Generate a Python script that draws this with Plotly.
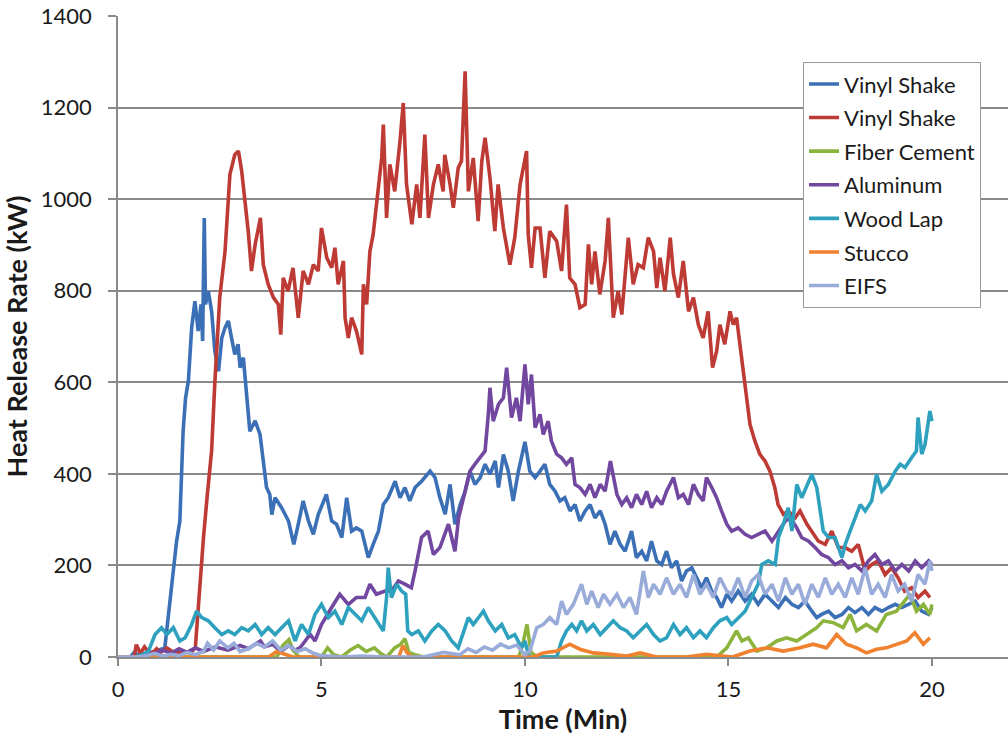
import plotly.graph_objects as go

# ---------------- data ----------------
T_VS1 = [0, 0.3, 0.4, 0.5, 0.7, 0.9, 1.15, 1.24, 1.32, 1.38,
         1.44, 1.52, 1.56, 1.6, 1.66, 1.73, 1.81, 1.89, 1.97, 2.04,
         2.08, 2.12, 2.15, 2.22, 2.3, 2.38, 2.47, 2.55, 2.63, 2.71,
         2.79, 2.87, 2.95, 3.0, 3.08, 3.16, 3.24, 3.37, 3.49, 3.57,
         3.65, 3.73, 3.78, 3.86, 4.02, 4.19, 4.32, 4.43, 4.55, 4.68,
         4.8, 4.92, 4.96, 5.12, 5.25, 5.37, 5.5, 5.62, 5.74, 5.86,
         5.99, 6.15, 6.27, 6.4, 6.52, 6.64, 6.81, 6.93, 7.05, 7.17,
         7.3, 7.46, 7.67, 7.79, 7.91, 8.04, 8.16, 8.28, 8.41, 8.53,
         8.65, 8.77, 8.9, 9.02, 9.14, 9.27, 9.35, 9.47, 9.59, 9.71,
         9.84, 10.0, 10.12, 10.25, 10.37, 10.49, 10.61, 10.74, 10.86, 10.98,
         11.11, 11.23, 11.35, 11.48, 11.6, 11.72, 11.85, 11.97, 12.09, 12.21,
         12.34, 12.46, 12.62, 12.74, 12.87, 12.99, 13.11, 13.24, 13.36, 13.48,
         13.6, 13.73, 13.85, 13.97, 14.1, 14.22, 14.34, 14.46, 14.59, 14.71,
         14.83, 14.96, 15.08, 15.24, 15.41, 15.57, 15.73, 15.9, 16.07, 16.23,
         16.4, 16.56, 16.72, 16.88, 17.05, 17.17, 17.29, 17.46, 17.62, 17.79,
         17.95, 18.11, 18.28, 18.44, 18.6, 18.77, 18.93, 19.1, 19.26, 19.43,
         19.59, 19.75, 19.92, 20.0]
V_VS1 = [0, 0, 10, 4, 8, 12, 20, 93, 166, 217,
         253, 297, 384, 493, 566, 603, 719, 777, 712, 770,
         690, 959, 770, 799, 755, 668, 624, 697, 719, 734,
         697, 661, 683, 632, 654, 573, 493, 516, 486, 428,
         370, 355, 311, 348, 326, 297, 246, 290, 341, 297,
         268, 311, 319, 355, 297, 290, 261, 348, 275, 282,
         275, 217, 246, 275, 333, 348, 384, 348, 370, 341,
         370, 384, 406, 392, 348, 312, 377, 290, 333, 362,
         406, 377, 392, 421, 399, 428, 370, 442, 406, 341,
         406, 470, 406, 392, 406, 421, 377, 362, 341, 348,
         319, 333, 297, 319, 333, 304, 319, 290, 246, 275,
         246, 231, 275, 217, 231, 210, 253, 210, 202, 231,
         195, 210, 166, 188, 195, 173, 151, 173, 144, 130,
         108, 137, 122, 144, 122, 137, 115, 137, 122, 108,
         130, 115, 108, 122, 100, 86, 93, 100, 86, 93,
         108, 97, 108, 93, 108, 100, 108, 115, 108, 115,
         122, 100, 93, 108]

T_VS2 = [0, 0.4, 0.45, 0.55, 0.65, 0.8, 0.95, 1.05, 1.2, 1.4,
         1.6, 1.8, 1.9, 2.0, 2.1, 2.19, 2.3, 2.38, 2.5, 2.63,
         2.75, 2.87, 2.96, 3.04, 3.12, 3.2, 3.28, 3.37, 3.5, 3.57,
         3.69, 3.82, 3.94, 4.0, 4.06, 4.18, 4.3, 4.43, 4.55, 4.68,
         4.8, 4.92, 5.0, 5.13, 5.25, 5.33, 5.41, 5.54, 5.58, 5.66,
         5.74, 5.86, 5.99, 6.03, 6.11, 6.19, 6.27, 6.4, 6.48, 6.52,
         6.6, 6.68, 6.8, 6.93, 7.01, 7.09, 7.22, 7.34, 7.42, 7.54,
         7.63, 7.75, 7.87, 7.99, 8.03, 8.16, 8.24, 8.36, 8.44, 8.53,
         8.61, 8.73, 8.85, 8.94, 9.02, 9.14, 9.26, 9.34, 9.47, 9.63,
         9.75, 9.88, 10.04, 10.08, 10.16, 10.25, 10.37, 10.49, 10.61, 10.78,
         10.9, 11.02, 11.1, 11.23, 11.35, 11.48, 11.56, 11.64, 11.72, 11.84,
         11.97, 12.05, 12.17, 12.29, 12.38, 12.54, 12.66, 12.78, 12.91, 13.03,
         13.16, 13.24, 13.32, 13.44, 13.57, 13.65, 13.77, 13.89, 14.02, 14.14,
         14.26, 14.38, 14.5, 14.61, 14.71, 14.79, 14.91, 15.04, 15.12, 15.2,
         15.28, 15.41, 15.53, 15.65, 15.77, 15.9, 16.02, 16.14, 16.22, 16.35,
         16.47, 16.64, 16.76, 16.93, 17.05, 17.21, 17.38, 17.54, 17.7, 17.87,
         18.03, 18.19, 18.36, 18.52, 18.68, 18.85, 19.01, 19.17, 19.33, 19.5,
         19.66, 19.83, 19.95]
V_VS2 = [0, 0, 27, 8, 22, 5, 18, 10, 20, 8,
         12, 10, 20, 150, 260, 350, 450, 600, 785, 886,
         1054, 1097, 1105, 1061, 1003, 930, 843, 901, 959, 857,
         814, 785, 770, 704, 828, 799, 850, 741, 843, 814,
         857, 843, 937, 872, 850, 894, 814, 865, 741, 697,
         741, 712, 661, 814, 770, 886, 923, 1032, 1090, 1163,
         959, 1076, 1017, 1127, 1210, 1032, 945, 1032, 959, 1141,
         959, 1032, 1076, 1017, 1097, 1032, 981, 1068, 1083, 1279,
         1017, 1090, 952, 1083, 1134, 1047, 930, 1032, 937, 857,
         916, 1032, 1105, 923, 850, 937, 937, 828, 930, 908,
         843, 988, 828, 814, 763, 770, 901, 814, 886, 792,
         865, 959, 741, 799, 748, 916, 814, 857, 850, 916,
         886, 806, 872, 799, 916, 836, 785, 865, 755, 785,
         726, 697, 755, 632, 668, 726, 683, 755, 726, 741,
         683, 581, 508, 472, 443, 428, 406, 370, 333, 312,
         319, 304, 319, 290, 275, 253, 246, 275, 239, 239,
         231, 246, 188, 202, 210, 180, 195, 173, 144, 151,
         130, 144, 130]

T_FC = [0, 3.9, 4.05, 4.2, 4.3, 4.45, 5.0, 5.15, 5.3, 5.5,
        5.7, 5.9, 6.1, 6.3, 6.45, 6.6, 6.8, 6.95, 7.05, 7.15,
        7.3, 7.5, 9.85, 9.95, 10.05, 10.15, 10.3, 14.71, 14.96, 15.2,
        15.33, 15.49, 15.7, 15.94, 16.19, 16.43, 16.68, 16.92, 17.17, 17.33,
        17.58, 17.82, 17.99, 18.15, 18.39, 18.64, 18.88, 19.13, 19.33, 19.46,
        19.62, 19.79, 19.95, 20.0]
V_FC = [0, 0, 25, 38, 15, 0, 0, 20, 5, 0,
        15, 25, 12, 20, 8, 0, 20, 28, 40, 10,
        5, 0, 0, 30, 71, 10, 0, 0, 20, 57,
        35, 42, 13, 20, 35, 42, 35, 49, 64, 79,
        75, 64, 93, 57, 71, 57, 93, 100, 122, 137,
        100, 115, 93, 115]

T_AL = [0, 0.5, 0.8, 1.1, 1.3, 1.5, 1.7, 1.9, 2.1, 2.4,
        2.7, 3.0, 3.2, 3.4, 3.5, 3.6, 3.8, 4.0, 4.2, 4.35,
        4.47, 4.6, 4.72, 4.84, 5.0, 5.25, 5.45, 5.66, 5.86, 6.07,
        6.19, 6.35, 6.56, 6.72, 6.89, 7.05, 7.21, 7.3, 7.46, 7.62,
        7.75, 7.91, 8.12, 8.28, 8.37, 8.53, 8.65, 8.77, 8.9, 9.02,
        9.1, 9.14, 9.22, 9.35, 9.47, 9.55, 9.67, 9.79, 9.88, 10.0,
        10.08, 10.16, 10.25, 10.37, 10.45, 10.57, 10.65, 10.78, 10.9, 11.02,
        11.15, 11.23, 11.35, 11.48, 11.6, 11.72, 11.85, 11.97, 12.1, 12.26,
        12.38, 12.5, 12.62, 12.74, 12.87, 12.99, 13.11, 13.24, 13.36, 13.48,
        13.65, 13.77, 13.89, 14.02, 14.14, 14.26, 14.38, 14.46, 14.59, 14.71,
        14.83, 14.96, 15.08, 15.24, 15.41, 15.57, 15.73, 15.9, 16.07, 16.23,
        16.4, 16.52, 16.68, 16.8, 16.97, 17.13, 17.29, 17.46, 17.62, 17.79,
        17.95, 18.11, 18.28, 18.44, 18.6, 18.77, 18.93, 19.1, 19.26, 19.43,
        19.59, 19.75, 19.92, 20.0]
V_AL = [0, 0, 5, 15, 8, 18, 10, 20, 12, 22,
        15, 25, 18, 30, 35, 22, 28, 12, 25, 15,
        20, 35, 50, 35, 71, 108, 137, 115, 130, 130,
        159, 137, 144, 144, 166, 159, 151, 188, 261, 275,
        224, 239, 290, 231, 304, 362, 406, 421, 435, 450,
        530, 588, 515, 552, 566, 632, 523, 566, 515, 639,
        552, 617, 501, 530, 486, 515, 472, 443, 435, 421,
        435, 377, 370, 355, 377, 348, 377, 362, 428, 355,
        333, 348, 326, 355, 333, 362, 326, 348, 333, 362,
        392, 348, 355, 333, 377, 355, 341, 392, 370, 348,
        319, 290, 275, 282, 268, 261, 268, 275, 253, 275,
        297, 304, 282, 261, 253, 239, 224, 217, 202, 210,
        195, 202, 188, 210, 224, 202, 210, 188, 202, 188,
        210, 195, 210, 202]

T_WL = [0, 0.42, 0.6, 0.75, 0.91, 1.07, 1.2, 1.36, 1.52, 1.65,
        1.81, 1.93, 2.06, 2.22, 2.38, 2.55, 2.71, 2.87, 3.04, 3.2,
        3.37, 3.53, 3.69, 3.86, 4.02, 4.19, 4.35, 4.51, 4.68, 4.84,
        5.0, 5.17, 5.33, 5.5, 5.66, 5.82, 5.99, 6.15, 6.31, 6.44,
        6.52, 6.6, 6.64, 6.72, 6.85, 6.97, 7.07, 7.12, 7.22, 7.38,
        7.54, 7.71, 7.87, 8.04, 8.2, 8.36, 8.49, 8.61, 8.73, 8.85,
        8.98, 9.1, 9.27, 9.43, 9.59, 9.75, 9.92, 10.0, 10.08, 10.12,
        10.78, 10.9, 11.02, 11.15, 11.27, 11.39, 11.52, 11.68, 11.85, 12.01,
        12.17, 12.34, 12.5, 12.66, 12.82, 12.99, 13.16, 13.32, 13.48, 13.65,
        13.81, 13.97, 14.14, 14.3, 14.46, 14.63, 14.79, 14.96, 15.08, 15.24,
        15.41, 15.57, 15.73, 15.82, 15.98, 16.15, 16.23, 16.35, 16.47, 16.56,
        16.68, 16.8, 16.93, 17.05, 17.17, 17.25, 17.33, 17.46, 17.62, 17.79,
        17.87, 17.99, 18.11, 18.24, 18.36, 18.52, 18.64, 18.77, 18.93, 19.1,
        19.22, 19.34, 19.5, 19.62, 19.66, 19.75, 19.83, 19.95, 20.0]
V_WL = [0, 0, 5, 13, 49, 64, 49, 64, 35, 42,
        71, 100, 86, 79, 64, 49, 57, 49, 64, 57,
        71, 49, 64, 49, 64, 79, 35, 71, 49, 93,
        115, 86, 100, 71, 108, 93, 79, 108, 86, 71,
        57, 130, 195, 130, 159, 144, 137, 57, 49, 57,
        35, 57, 71, 57, 35, 20, 57, 86, 71, 86,
        100, 79, 57, 71, 42, 49, 20, 35, 6, 0,
        0, 35, 57, 71, 57, 79, 57, 71, 49, 64,
        79, 64, 57, 42, 57, 71, 49, 35, 42, 71,
        49, 64, 42, 57, 42, 64, 79, 86, 71, 86,
        100, 130, 159, 202, 210, 202, 261, 290, 326, 275,
        377, 348, 377, 399, 370, 319, 275, 261, 261, 217,
        246, 275, 304, 333, 319, 341, 399, 362, 377, 406,
        421, 414, 435, 450, 523, 443, 464, 537, 515]

T_ST = [0, 3.7, 3.9, 4.1, 4.3, 6.9, 7.0, 7.1, 7.2, 10.21,
        10.45, 10.78, 11.1, 11.35, 11.68, 12.09, 12.5, 12.83, 13.24, 13.97,
        14.46, 15.1, 15.53, 15.94, 16.35, 16.76, 17.08, 17.41, 17.66, 17.9,
        18.15, 18.39, 18.64, 18.88, 19.13, 19.38, 19.58, 19.79, 19.95]
V_ST = [0, 0, 12, 5, 0, 0, 25, 10, 0, 0,
        9, 13, 28, 17, 9, 6, 2, 9, 0, 0,
        6, 0, 13, 20, 13, 20, 28, 20, 49, 28,
        20, 9, 17, 20, 28, 35, 53, 28, 42]

T_EI = [0, 0.5, 0.7, 0.9, 1.1, 1.3, 1.5, 1.7, 1.9, 2.1,
        2.2, 2.35, 2.5, 2.7, 2.85, 3.0, 3.2, 3.4, 3.6, 3.8,
        4.0, 4.2, 4.4, 4.6, 4.8, 5.0, 5.5, 6.0, 6.5, 7.0,
        7.5, 8.0, 8.4, 8.6, 8.8, 9.0, 9.2, 9.4, 9.6, 9.8,
        10.0, 10.12, 10.29, 10.45, 10.61, 10.78, 10.9, 11.02, 11.19, 11.39,
        11.52, 11.64, 11.8, 11.93, 12.09, 12.26, 12.42, 12.58, 12.74, 12.91,
        13.03, 13.16, 13.32, 13.48, 13.65, 13.81, 13.97, 14.14, 14.3, 14.46,
        14.63, 14.79, 14.96, 15.08, 15.24, 15.41, 15.57, 15.73, 15.9, 16.07,
        16.23, 16.4, 16.56, 16.72, 16.88, 17.05, 17.21, 17.38, 17.54, 17.7,
        17.87, 18.03, 18.19, 18.36, 18.52, 18.68, 18.85, 19.01, 19.17, 19.33,
        19.5, 19.66, 19.83, 19.95, 20.0]
V_EI = [0, 0, 3, 8, 2, 6, 3, 10, 5, 12,
        30, 15, 35, 20, 30, 12, 18, 30, 22, 35,
        15, 25, 12, 18, 8, 3, 0, 2, 0, 0,
        0, 10, 5, 18, 10, 22, 15, 28, 20, 26,
        5, 13, 64, 71, 86, 71, 122, 93, 115, 159,
        115, 144, 108, 137, 115, 137, 108, 130, 93, 188,
        130, 159, 137, 173, 137, 159, 130, 180, 137, 159,
        130, 173, 144, 137, 173, 130, 166, 180, 137, 159,
        122, 173, 137, 159, 115, 159, 130, 173, 137, 159,
        130, 173, 137, 195, 137, 159, 130, 180, 144, 159,
        122, 180, 159, 210, 188]

SERIES_NAMES = ["Vinyl Shake", "Vinyl Shake", "Fiber Cement", "Aluminum",
                "Wood Lap", "Stucco", "EIFS"]
X_TICKS = [0, 5, 10, 15, 20]
Y_TICKS = [0, 200, 400, 600, 800, 1000, 1200, 1400]

# ---------------- figure ----------------
data = [(T_VS1, V_VS1), (T_VS2, V_VS2), (T_FC, V_FC), (T_AL, V_AL),
        (T_WL, V_WL), (T_ST, V_ST), (T_EI, V_EI)]
colors = ["#3B6FB6", "#BE3A34", "#8CB33C", "#7147A0", "#2EA1BE", "#F0812E", "#98ABD9"]

fig = go.Figure()
for i, (name, (t, v), c) in enumerate(zip(SERIES_NAMES, data, colors)):
    assert len(t) == len(v), (name, len(t), len(v))
    fig.add_trace(go.Scatter(x=t, y=v, name=name, mode="lines",
                             line=dict(color=c, width=3.6),
                             legendgroup=str(i)))

grid = "#8a8a8a"
fig.update_layout(
    width=1008, height=742,
    margin=dict(l=118, r=0, t=16, b=85),
    paper_bgcolor="white", plot_bgcolor="white",
    font=dict(family="Lato, 'Open Sans', sans-serif", size=22, color="#1a1a1a"),
    showlegend=True,
    legend=dict(x=0.7697, y=0.928, xanchor="left", yanchor="top",
                bordercolor="#9a9a9a", borderwidth=1, bgcolor="white",
                traceorder="grouped", tracegroupgap=2, itemwidth=30,
                font=dict(size=22, color="#1a1a1a")),
    xaxis=dict(range=[0, 21.87], tickvals=X_TICKS, showgrid=False, zeroline=False,
               automargin=False, ticklabeloverflow="allow",
               showline=True, linecolor=grid, linewidth=1.5,
               ticks="outside", ticklen=7, tickcolor=grid, tickwidth=1.5,
               ticklabelstandoff=5,
               title=dict(text="<b>Time (Min)</b>", font=dict(size=27), standoff=4)),
    yaxis=dict(range=[0, 1400], tickvals=Y_TICKS,
               showgrid=True, gridcolor=grid, gridwidth=1.5,
               automargin=False, ticklabeloverflow="allow",
               zeroline=False, showline=True, linecolor=grid, linewidth=1.5,
               ticks="outside", ticklen=8, tickcolor=grid, tickwidth=1.5,
               ticklabelstandoff=12,
               title=dict(text="<b>Heat Release Rate (kW)</b>", font=dict(size=27), standoff=5)),
)

# remove the browser's default 8px body margin so the figure sits at the page corner
fig.write_html("out.html",
               config={"displayModeBar": False},
               post_script="document.body.style.margin='0';document.body.style.padding='0';")
